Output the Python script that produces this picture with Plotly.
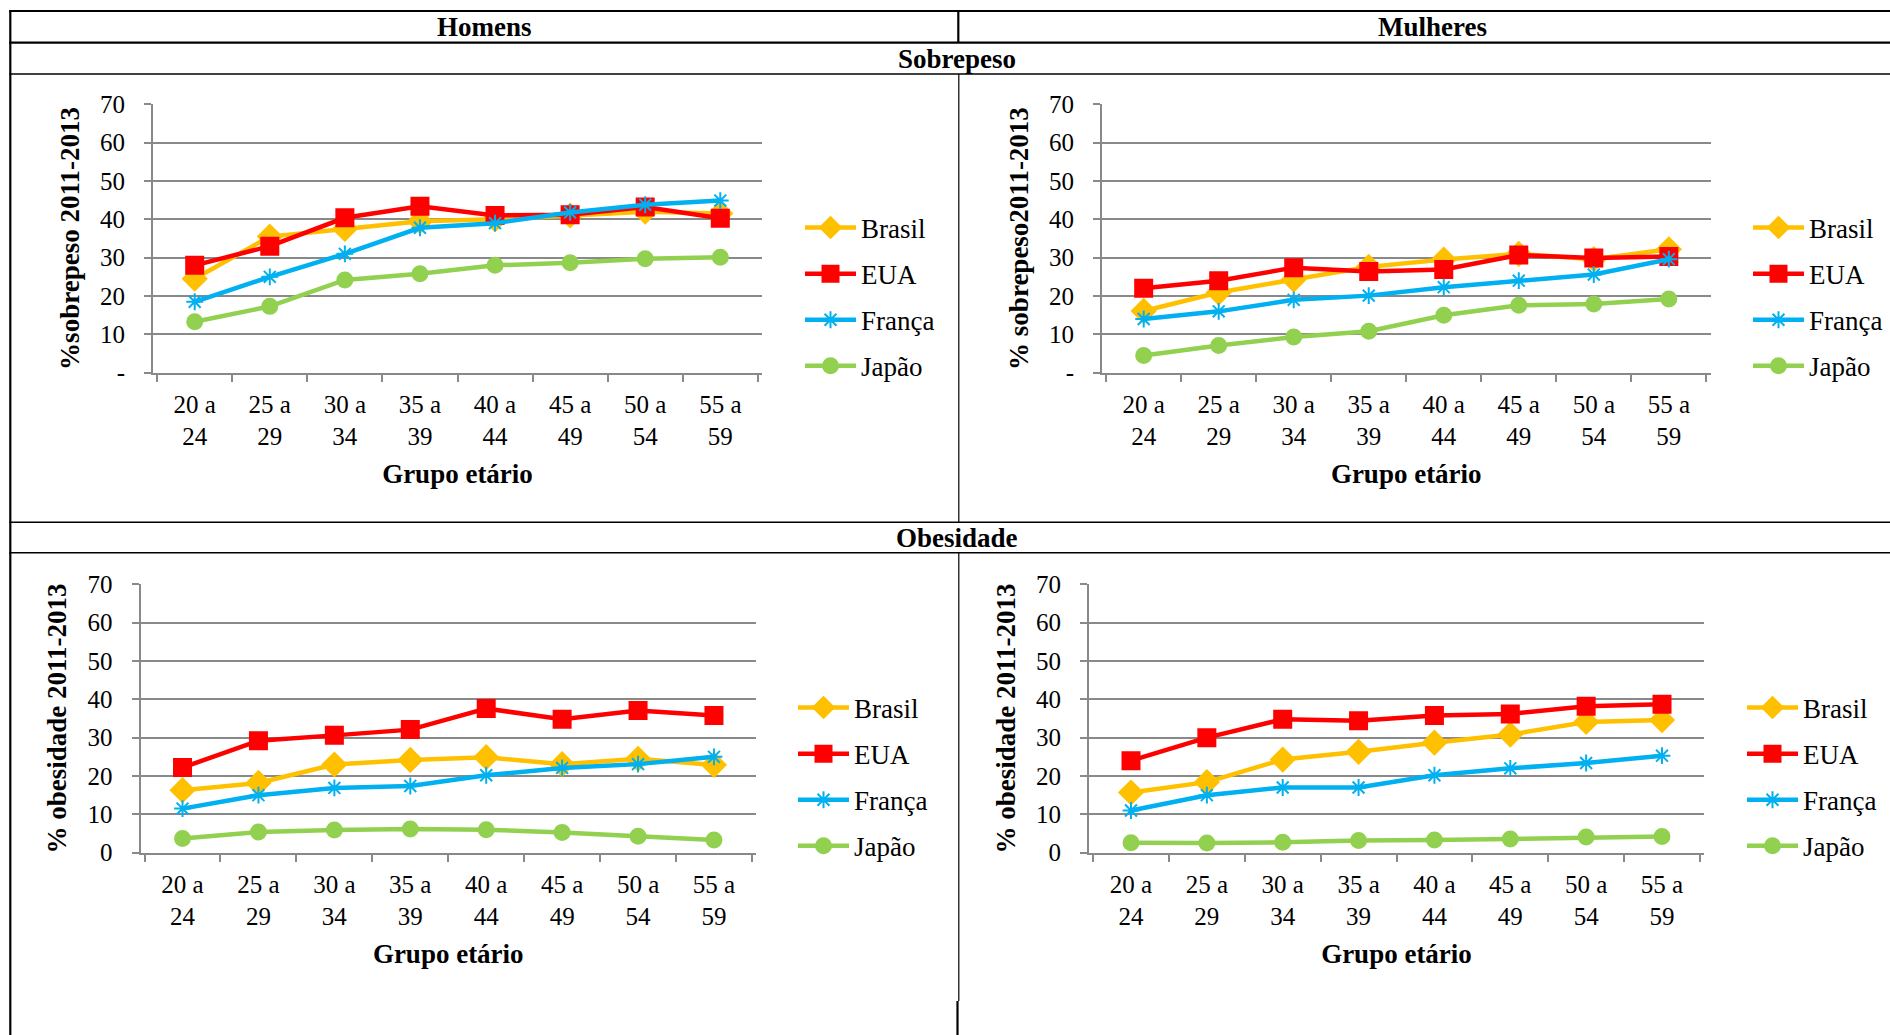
import plotly.graph_objects as go

# Age groups (x categories)
age_groups = ["20 a<br>24", "25 a<br>29", "30 a<br>34", "35 a<br>39",
              "40 a<br>44", "45 a<br>49", "50 a<br>54", "55 a<br>59"]
countries = ["Brasil", "EUA", "França", "Japão"]

# Sobrepeso 2011-2013, homens
sobre_homens_brasil = [24.5, 35.5, 37.5, 39.5, 40.0, 41.0, 42.0, 41.5]
sobre_homens_eua = [28.0, 33.0, 40.4, 43.4, 41.0, 41.2, 43.2, 40.3]
sobre_homens_franca = [18.5, 25.0, 31.0, 37.8, 39.0, 41.8, 43.8, 44.9]
sobre_homens_japao = [13.3, 17.3, 24.2, 25.8, 28.0, 28.7, 29.7, 30.1]

# Sobrepeso 2011-2013, mulheres
sobre_mulheres_brasil = [16.1, 20.9, 24.3, 27.6, 29.5, 31.0, 29.6, 32.2]
sobre_mulheres_eua = [22.0, 24.0, 27.4, 26.4, 26.9, 30.7, 29.9, 30.3]
sobre_mulheres_franca = [14.0, 16.0, 19.0, 20.1, 22.3, 24.0, 25.6, 29.6]
sobre_mulheres_japao = [4.5, 7.1, 9.3, 10.8, 15.0, 17.6, 17.9, 19.2]

# Obesidade 2011-2013, homens
obes_homens_brasil = [16.3, 18.2, 23.0, 24.2, 24.9, 23.1, 24.5, 22.9]
obes_homens_eua = [22.2, 29.2, 30.6, 32.1, 37.6, 34.8, 37.1, 35.8]
obes_homens_franca = [11.5, 15.0, 16.9, 17.4, 20.2, 22.1, 23.1, 25.0]
obes_homens_japao = [3.7, 5.4, 5.9, 6.2, 6.0, 5.3, 4.3, 3.3]

# Obesidade 2011-2013, mulheres
obes_mulheres_brasil = [15.7, 18.4, 24.3, 26.3, 28.7, 30.8, 34.1, 34.6]
obes_mulheres_eua = [24.0, 30.0, 34.8, 34.4, 35.8, 36.2, 38.2, 38.7]
obes_mulheres_franca = [11.0, 15.0, 17.0, 17.0, 20.2, 22.0, 23.4, 25.3]
obes_mulheres_japao = [2.6, 2.5, 2.7, 3.2, 3.3, 3.6, 4.1, 4.2]

y_ticks = [0, 10, 20, 30, 40, 50, 60, 70]
y_ticktext_dash = ["-", "10", "20", "30", "40", "50", "60", "70"]
y_ticktext_zero = ["0", "10", "20", "30", "40", "50", "60", "70"]

W, H = 1890, 1035
FONT = "'Liberation Serif', Tinos, 'Times New Roman', 'Nimbus Roman', 'DejaVu Serif', serif"
GRID = "#898989"
TICK_SIZE = 25
TITLE_SIZE = 27
LEGEND_SIZE = 27

colors = {"Brasil": "#FFC000", "EUA": "#FF0000", "França": "#00B0F0", "Japão": "#92D050"}
markers = {
    "Brasil": dict(symbol="diamond", size=18),
    "EUA": dict(symbol="square", size=17),
    "França": dict(symbol="asterisk-open", size=14),
    "Japão": dict(symbol="circle", size=15),
}


def px_x(v):
    return v / W


def px_y(v):
    return 1 - v / H


panels = [
    dict(key="", series=[sobre_homens_brasil, sobre_homens_eua, sobre_homens_franca, sobre_homens_japao],
         xd=(153, 762), yd=(104.3, 372.7), title="%sobrepeso 2011-2013",
         ticktext=y_ticktext_dash, leg=(800, 297)),
    dict(key="2", series=[sobre_mulheres_brasil, sobre_mulheres_eua, sobre_mulheres_franca, sobre_mulheres_japao],
         xd=(1102, 1710.5), yd=(104.3, 372.7), title="% sobrepeso2011-2013",
         ticktext=y_ticktext_dash, leg=(1748, 297)),
    dict(key="3", series=[obes_homens_brasil, obes_homens_eua, obes_homens_franca, obes_homens_japao],
         xd=(140.5, 756), yd=(584.3, 852.7), title="% obesidade 2011-2013",
         ticktext=y_ticktext_zero, leg=(793, 777)),
    dict(key="4", series=[obes_mulheres_brasil, obes_mulheres_eua, obes_mulheres_franca, obes_mulheres_japao],
         xd=(1089, 1704), yd=(584.3, 852.7), title="% obesidade 2011-2013",
         ticktext=y_ticktext_zero, leg=(1742, 777)),
]

fig = go.Figure()
layout = dict()

for p in panels:
    k = p["key"]
    legend_name = "legend" + k
    for name, vals in zip(countries, p["series"]):
        m = markers[name]
        fig.add_trace(go.Scatter(
            x=age_groups, y=vals, name=name, mode="lines+markers",
            xaxis="x" + k, yaxis="y" + k,
            line=dict(color=colors[name], width=4.5),
            marker=dict(symbol=m["symbol"], size=m["size"], color=colors[name],
                        line=dict(color=colors[name], width=2)),
            legend=legend_name, legendgroup=f"{name}{k}",
            cliponaxis=False,
        ))
    layout["xaxis" + k] = dict(
        domain=[px_x(p["xd"][0]), px_x(p["xd"][1])], anchor="y" + k,
        type="category", categoryorder="array", categoryarray=age_groups,
        tickson="boundaries", ticks="outside", ticklen=7, tickwidth=1.5, tickcolor=GRID,
        showline=True, linecolor=GRID, linewidth=2, showgrid=False, automargin=False,
        tickfont=dict(family=FONT, size=TICK_SIZE, color="black"),
        ticklabelstandoff=8,
        title=dict(text="<b>Grupo etário</b>", font=dict(family=FONT, size=TITLE_SIZE, color="black"),
                   standoff=15),
    )
    layout["yaxis" + k] = dict(
        domain=[px_y(p["yd"][1]), px_y(p["yd"][0])], anchor="x" + k,
        range=[0, 70], tickvals=y_ticks, ticktext=p["ticktext"],
        ticks="outside", ticklen=7, tickwidth=1.5, tickcolor=GRID,
        showline=True, linecolor=GRID, linewidth=2, automargin=False,
        showgrid=True, gridcolor=GRID, gridwidth=2, zeroline=False,
        tickfont=dict(family=FONT, size=TICK_SIZE, color="black"),
        ticklabelstandoff=14,
        title=dict(text=f"<b>{p['title']}</b>", font=dict(family=FONT, size=TITLE_SIZE, color="black"),
                   standoff=13),
    )
    layout[legend_name] = dict(
        x=px_x(p["leg"][0]), y=px_y(p["leg"][1]), xanchor="left", yanchor="middle",
        font=dict(family=FONT, size=LEGEND_SIZE, color="black"),
        bgcolor="rgba(0,0,0,0)", tracegroupgap=8, itemwidth=51,
    )

# Table frame around the panels
shapes = []


def hline(y, x0, x1, w):
    shapes.append(dict(type="line", xref="paper", yref="paper",
                       x0=px_x(x0), x1=px_x(x1), y0=px_y(y), y1=px_y(y),
                       line=dict(color="black", width=w)))


def vline(x, y0, y1, w):
    shapes.append(dict(type="line", xref="paper", yref="paper",
                       x0=px_x(x), x1=px_x(x), y0=px_y(y0), y1=px_y(y1),
                       line=dict(color="black", width=w)))


hline(11, 9.3, W, 2.2)
hline(42.7, 9.3, W, 2.2)
hline(74, 9.3, W, 1.6)
hline(522.3, 9.3, W, 1.6)
hline(552.7, 9.3, W, 1.6)
vline(10.3, 10, H, 2.2)
vline(958.3, 10, 42.7, 2.2)
vline(958.8, 74, 522.3, 1.2)
vline(958.8, 552.7, 1001, 1.2)
vline(957.5, 1001, H, 2.2)

header_font = dict(family=FONT, size=27, color="black")
annotations = [
    dict(text="<b>Homens</b>", x=px_x(484), y=px_y(27)),
    dict(text="<b>Mulheres</b>", x=px_x(1432), y=px_y(27)),
    dict(text="<b>Sobrepeso</b>", x=px_x(957), y=px_y(59)),
    dict(text="<b>Obesidade</b>", x=px_x(957), y=px_y(538)),
]
for a in annotations:
    a.update(xref="paper", yref="paper", showarrow=False, font=header_font,
             xanchor="center", yanchor="middle")

fig.update_layout(
    width=W, height=H, margin=dict(l=0, r=0, t=0, b=0, autoexpand=False),
    paper_bgcolor="white", plot_bgcolor="white",
    shapes=shapes, annotations=annotations,
    showlegend=True,
    **layout,
)

fig.write_html("out.html")
